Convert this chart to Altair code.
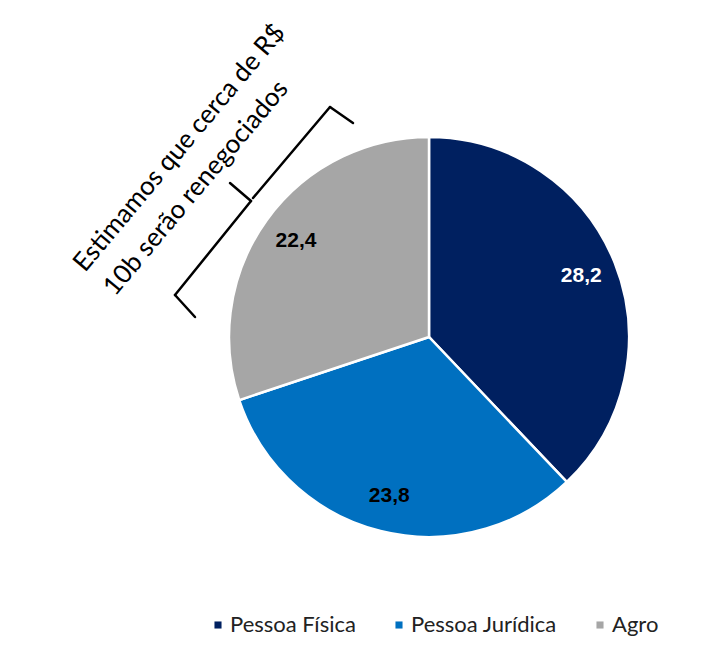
import altair as alt
import pandas as pd

categorias = ["Pessoa Física", "Pessoa Jurídica", "Agro"]
valores = [28.2, 23.8, 22.4]
rotulos = ["28,2", "23,8", "22,4"]
cores = ["#002060", "#0070C0", "#A6A6A6"]
cores_texto = ["white", "black", "black"]
anotacao = ["Estimamos que cerca de R$", "10b serão renegociados"]

df = pd.DataFrame({
    "categoria": categorias,
    "valor": valores,
    "rotulo": rotulos,
    "ordem": list(range(len(categorias))),
    "cor_texto": cores_texto,
})

CX, CY = 421, 329

base = alt.Chart(df).encode(
    theta=alt.Theta("valor:Q", stack=True),
    order=alt.Order("ordem:Q"),
)

arcos = base.mark_arc(outerRadius=200, stroke="white", strokeWidth=2.5).encode(
    x=alt.value(CX), y=alt.value(CY),
    color=alt.Color(
        "categoria:N",
        scale=alt.Scale(domain=categorias, range=cores),
        sort=categorias,
        legend=alt.Legend(
            title=None, orient="none", direction="horizontal",
            legendX=199, legendY=606,
            symbolType="square", symbolSize=50, symbolStrokeWidth=0,
            labelFont="Lato", labelFontSize=22, labelColor="#222222",
            labelOffset=1, columnPadding=32, padding=0,
        ),
    ),
)

textos = base.mark_text(
    radius=164, font="Liberation Sans", fontWeight="bold", fontSize=21,
).encode(
    x=alt.value(CX), y=alt.value(CY),
    text="rotulo:N",
    color=alt.Color("cor_texto:N", scale=None),
)

ann_df = pd.DataFrame({"linha": anotacao, "i": [0, 1]})
estilo = dict(angle=310, font="Lato", fontSize=26, align="left", baseline="alphabetic", color="black")
linha1 = alt.Chart(ann_df[ann_df.i == 0]).mark_text(**estilo).encode(
    text="linha:N", x=alt.value(77), y=alt.value(265))
linha2 = alt.Chart(ann_df[ann_df.i == 1]).mark_text(**estilo).encode(
    text="linha:N", x=alt.value(107), y=alt.value(289))

segs = [
    ((345, 115), (322, 99)),
    ((322, 99), (245, 190)),
    ((222, 175), (243, 193)),
    ((243, 193), (167, 287)),
    ((167, 287), (187, 309)),
]
chave = []
for (x1, y1), (x2, y2) in segs:
    chave.append(
        alt.Chart(ann_df.head(1)).mark_rule(color="black", strokeWidth=2.5, strokeCap="round").encode(
            x=alt.value(x1), y=alt.value(y1), x2=alt.value(x2), y2=alt.value(y2)
        )
    )

chart = alt.layer(arcos, textos, linha1, linha2, *chave).resolve_scale(color="independent").properties(
    width=709, height=645, autosize=alt.AutoSizeParams(type="none"), padding=0,
).configure_view(stroke=None)

chart.save("out.html", embed_options={"renderer": "svg", "actions": False})
